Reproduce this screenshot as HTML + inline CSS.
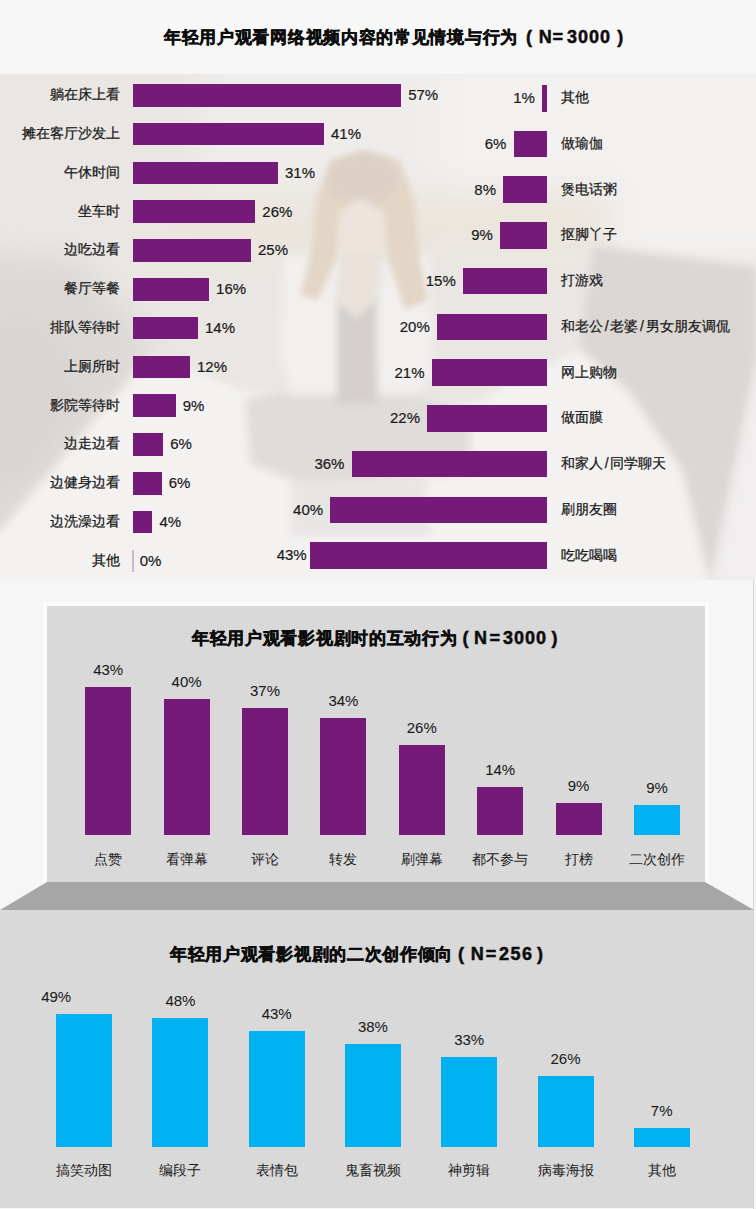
<!DOCTYPE html><html><head><meta charset="utf-8"><style>
html,body{margin:0;padding:0;}
body{width:756px;height:1209px;position:relative;overflow:hidden;background:#f6f6f6;font-family:"Liberation Sans",sans-serif;color:#1a1a1a;}
.a{position:absolute;}
.t{position:absolute;white-space:nowrap;font-weight:bold;color:#0d0d0d;font-size:17px;line-height:20px;letter-spacing:0.7px;-webkit-text-stroke:0.5px #0d0d0d}
.lb{position:absolute;white-space:nowrap;font-size:14px;line-height:20px;-webkit-text-stroke:0.25px #1a1a1a;letter-spacing:0px}
.num{position:absolute;white-space:nowrap;font-size:15px;line-height:20px;-webkit-text-stroke:0.2px #1a1a1a}
</style></head><body>

<div class="a" style="left:0;top:0;width:756px;height:73px;background:#f7f7f7"></div>
<div class="a" id="photo" style="left:0;top:74px;width:756px;height:506px;background:#ebe8e6;overflow:hidden">
<svg width="756" height="506" style="position:absolute;left:0;top:0">
<defs>
<filter id="b20" x="-50%" y="-50%" width="200%" height="200%"><feGaussianBlur stdDeviation="16"/></filter>
<filter id="b8" x="-30%" y="-30%" width="160%" height="160%"><feGaussianBlur stdDeviation="8"/></filter>
<filter id="b4" x="-30%" y="-30%" width="160%" height="160%"><feGaussianBlur stdDeviation="4"/></filter>
<filter id="b3" x="-30%" y="-30%" width="160%" height="160%"><feGaussianBlur stdDeviation="3"/></filter>
</defs>
<rect width="756" height="506" fill="#e9e6e3"/>
<g filter="url(#b20)">
<rect x="200" y="-40" width="600" height="160" fill="#efedeb"/>
<rect x="440" y="-40" width="360" height="230" fill="#f2f1f0"/>
<rect x="150" y="115" width="460" height="70" fill="#ebe5de"/>
<polygon points="-40,176 80,186 150,266 150,292 0,473 -40,480" fill="#dbd8d5"/>
</g>
<g filter="url(#b8)">
<polygon points="-10,250 50,250 80,320 30,400 -10,410" fill="#d8d5d2"/>
</g>
<g filter="url(#b4)">
<polygon points="593,172 756,193 756,289 711,506 700,470 682,396 629,318 579,275" fill="#dbd7d4"/>
<polygon points="150,282 245,316 470,330 579,275 629,318 682,396 700,470 711,520 -20,520 -20,480" fill="#f3f2f1"/>
<polygon points="756,289 780,289 780,520 711,506" fill="#f0eeee"/>
</g>
<g filter="url(#b4)">
<polygon points="245,325 300,312 420,322 470,336 470,400 300,409 250,390" fill="#e0dcda"/>
<polygon points="284,180 337,185 337,321 290,321 280,280" fill="#f2f0ef"/>
<polygon points="384,185 429,180 434,300 415,321 371,321" fill="#f2f0ef"/>
<polygon points="337,228 376,228 378,330 337,330" fill="#d4cfcc"/>
<polygon points="292,407 426,405 430,462 290,462" fill="#e8e6e5"/>
</g>
<g filter="url(#b3)">
<polygon points="330,86 366,75 400,86 414,126 420,186 428,226 405,236 388,186 384,136 340,136 336,186 318,226 300,221 312,176 316,126" fill="#e3d6c6"/>
<ellipse cx="362" cy="105" rx="36" ry="26" fill="#ddd1c6"/>
<ellipse cx="361" cy="157" rx="23" ry="31" fill="#ece4dd"/>
<polygon points="343,180 379,180 374,228 356,245 338,228" fill="#e9e1da"/>
</g>
</svg>

</div>
<div class="t" style="left:164.0px;top:27.5px">年轻用户观看网络视频内容的常见情境与行为</div>
<div class="t" style="left:526.0px;top:26.5px;letter-spacing:0.0px;font-size:18px">(</div>
<div class="t" style="left:538.7px;top:26.5px;letter-spacing:0.0px;font-size:18px">N</div>
<div class="t" style="left:552.5px;top:26.5px;letter-spacing:0.0px;font-size:18px">=</div>
<div class="t" style="left:567.0px;top:26.5px;letter-spacing:1.0px;font-size:18px">3000</div>
<div class="t" style="left:617.2px;top:26.5px;letter-spacing:0.0px;font-size:18px">)</div>
<div class="a" style="left:133px;top:84.0px;width:268.0px;height:22.5px;background:#761a79"></div>
<div class="lb" style="right:636.0px;top:84.2px">躺在床上看</div>
<div class="num" style="left:408.2px;top:85.2px">57%</div>
<div class="a" style="left:133px;top:122.8px;width:190.8px;height:22.5px;background:#761a79"></div>
<div class="lb" style="right:636.0px;top:123.1px">摊在客厅沙发上</div>
<div class="num" style="left:331.0px;top:124.1px">41%</div>
<div class="a" style="left:133px;top:161.6px;width:144.8px;height:22.5px;background:#761a79"></div>
<div class="lb" style="right:636.0px;top:161.8px">午休时间</div>
<div class="num" style="left:285.0px;top:162.8px">31%</div>
<div class="a" style="left:133px;top:200.4px;width:122.1px;height:22.5px;background:#761a79"></div>
<div class="lb" style="right:636.0px;top:200.6px">坐车时</div>
<div class="num" style="left:262.3px;top:201.6px">26%</div>
<div class="a" style="left:133px;top:239.2px;width:117.8px;height:22.5px;background:#761a79"></div>
<div class="lb" style="right:636.0px;top:239.4px">边吃边看</div>
<div class="num" style="left:258.0px;top:240.4px">25%</div>
<div class="a" style="left:133px;top:278.0px;width:75.9px;height:22.5px;background:#761a79"></div>
<div class="lb" style="right:636.0px;top:278.2px">餐厅等餐</div>
<div class="num" style="left:216.1px;top:279.2px">16%</div>
<div class="a" style="left:133px;top:316.8px;width:64.8px;height:22.5px;background:#761a79"></div>
<div class="lb" style="right:636.0px;top:317.0px">排队等待时</div>
<div class="num" style="left:205.0px;top:318.0px">14%</div>
<div class="a" style="left:133px;top:355.6px;width:56.8px;height:22.5px;background:#761a79"></div>
<div class="lb" style="right:636.0px;top:355.8px">上厕所时</div>
<div class="num" style="left:197.0px;top:356.8px">12%</div>
<div class="a" style="left:133px;top:394.4px;width:42.5px;height:22.5px;background:#761a79"></div>
<div class="lb" style="right:636.0px;top:394.6px">影院等待时</div>
<div class="num" style="left:182.7px;top:395.6px">9%</div>
<div class="a" style="left:133px;top:433.2px;width:30.0px;height:22.5px;background:#761a79"></div>
<div class="lb" style="right:636.0px;top:433.4px">边走边看</div>
<div class="num" style="left:170.2px;top:434.4px">6%</div>
<div class="a" style="left:133px;top:472.0px;width:28.5px;height:22.5px;background:#761a79"></div>
<div class="lb" style="right:636.0px;top:472.2px">边健身边看</div>
<div class="num" style="left:168.7px;top:473.2px">6%</div>
<div class="a" style="left:133px;top:510.8px;width:19.2px;height:22.5px;background:#761a79"></div>
<div class="lb" style="right:636.0px;top:511.0px">边洗澡边看</div>
<div class="num" style="left:159.4px;top:512.0px">4%</div>
<div class="a" style="left:132.2px;top:549.6px;width:1.6px;height:22.5px;background:#c4bccb"></div>
<div class="lb" style="right:636.0px;top:549.8px">其他</div>
<div class="num" style="left:139.7px;top:550.8px">0%</div>
<div class="a" style="left:542.0px;top:85.0px;width:4.6px;height:26.5px;background:#761a79"></div>
<div class="lb" style="left:561.0px;top:87.2px">其他</div>
<div class="num" style="right:221.2px;top:88.2px">1%</div>
<div class="a" style="left:513.5px;top:130.7px;width:33.1px;height:26.5px;background:#761a79"></div>
<div class="lb" style="left:561.0px;top:133.0px">做瑜伽</div>
<div class="num" style="right:249.7px;top:134.0px">6%</div>
<div class="a" style="left:503.2px;top:176.4px;width:43.4px;height:26.5px;background:#761a79"></div>
<div class="lb" style="left:561.0px;top:178.7px">煲电话粥</div>
<div class="num" style="right:260.0px;top:179.7px">8%</div>
<div class="a" style="left:500.0px;top:222.2px;width:46.6px;height:26.5px;background:#761a79"></div>
<div class="lb" style="left:561.0px;top:224.4px">抠脚丫子</div>
<div class="num" style="right:263.2px;top:225.4px">9%</div>
<div class="a" style="left:463.0px;top:267.9px;width:83.6px;height:26.5px;background:#761a79"></div>
<div class="lb" style="left:561.0px;top:270.1px">打游戏</div>
<div class="num" style="right:300.2px;top:271.1px">15%</div>
<div class="a" style="left:437.0px;top:313.6px;width:109.6px;height:26.5px;background:#761a79"></div>
<div class="lb" style="left:561.0px;top:315.9px">和老公<span style="margin:0 1.7px">/</span>老婆<span style="margin:0 1.7px">/</span>男女朋友调侃</div>
<div class="num" style="right:326.2px;top:316.9px">20%</div>
<div class="a" style="left:431.7px;top:359.3px;width:114.9px;height:26.5px;background:#761a79"></div>
<div class="lb" style="left:561.0px;top:361.6px">网上购物</div>
<div class="num" style="right:331.5px;top:362.6px">21%</div>
<div class="a" style="left:427.2px;top:405.0px;width:119.4px;height:26.5px;background:#761a79"></div>
<div class="lb" style="left:561.0px;top:407.3px">做面膜</div>
<div class="num" style="right:336.0px;top:408.3px">22%</div>
<div class="a" style="left:351.6px;top:450.8px;width:195.0px;height:26.5px;background:#761a79"></div>
<div class="lb" style="left:561.0px;top:453.0px">和家人<span style="margin:0 1.7px">/</span>同学聊天</div>
<div class="num" style="right:411.6px;top:454.0px">36%</div>
<div class="a" style="left:330.3px;top:496.5px;width:216.3px;height:26.5px;background:#761a79"></div>
<div class="lb" style="left:561.0px;top:498.7px">刷朋友圈</div>
<div class="num" style="right:432.9px;top:499.7px">40%</div>
<div class="a" style="left:310.3px;top:542.2px;width:236.3px;height:26.5px;background:#761a79"></div>
<div class="lb" style="left:561.0px;top:544.5px">吃吃喝喝</div>
<div class="num" style="right:449.3px;top:544.5px">43%</div>
<div class="a" style="left:47px;top:606px;width:658px;height:276px;background:#d9d9d9;box-shadow:0 0 0 4px #fbfbfb"></div>
<svg class="a" style="left:0;top:0" width="756" height="1209"><polygon points="47,882 705,882 754,910 0,910" fill="#a6a6a6"/></svg>
<div class="a" style="left:0;top:910px;width:753.5px;height:298px;background:#d9d9d9"></div>
<div class="a" style="left:753px;top:580px;width:1px;height:629px;background:#d5d5d5"></div>
<div class="t" style="left:192.0px;top:629.0px">年轻用户观看影视剧时的互动行为</div>
<div class="t" style="left:462.5px;top:628.0px;letter-spacing:0.0px;font-size:18px">(</div>
<div class="t" style="left:474.1px;top:628.0px;letter-spacing:0.0px;font-size:18px">N</div>
<div class="t" style="left:489.5px;top:628.0px;letter-spacing:0.0px;font-size:18px">=</div>
<div class="t" style="left:503.0px;top:628.0px;letter-spacing:1.0px;font-size:18px">3000</div>
<div class="t" style="left:551.6px;top:628.0px;letter-spacing:0.0px;font-size:18px">)</div>
<div class="a" style="left:85.2px;top:687.4px;width:46px;height:147.6px;background:#761a79"></div>
<div class="num" style="left:85.2px;width:46px;text-align:center;top:660.4px;-webkit-text-stroke-width:0.05px">43%</div>
<div class="lb" style="left:85.2px;width:46px;text-align:center;top:848.5px;display:flex;justify-content:center;-webkit-text-stroke-width:0px">点赞</div>
<div class="a" style="left:163.6px;top:699.0px;width:46px;height:136.0px;background:#761a79"></div>
<div class="num" style="left:163.6px;width:46px;text-align:center;top:672.0px;-webkit-text-stroke-width:0.05px">40%</div>
<div class="lb" style="left:163.6px;width:46px;text-align:center;top:848.5px;display:flex;justify-content:center;-webkit-text-stroke-width:0px">看弹幕</div>
<div class="a" style="left:242.0px;top:707.7px;width:46px;height:127.3px;background:#761a79"></div>
<div class="num" style="left:242.0px;width:46px;text-align:center;top:680.7px;-webkit-text-stroke-width:0.05px">37%</div>
<div class="lb" style="left:242.0px;width:46px;text-align:center;top:848.5px;display:flex;justify-content:center;-webkit-text-stroke-width:0px">评论</div>
<div class="a" style="left:320.4px;top:718.1px;width:46px;height:116.9px;background:#761a79"></div>
<div class="num" style="left:320.4px;width:46px;text-align:center;top:691.1px;-webkit-text-stroke-width:0.05px">34%</div>
<div class="lb" style="left:320.4px;width:46px;text-align:center;top:848.5px;display:flex;justify-content:center;-webkit-text-stroke-width:0px">转发</div>
<div class="a" style="left:398.8px;top:744.9px;width:46px;height:90.1px;background:#761a79"></div>
<div class="num" style="left:398.8px;width:46px;text-align:center;top:717.9px;-webkit-text-stroke-width:0.05px">26%</div>
<div class="lb" style="left:398.8px;width:46px;text-align:center;top:848.5px;display:flex;justify-content:center;-webkit-text-stroke-width:0px">刷弹幕</div>
<div class="a" style="left:477.2px;top:786.5px;width:46px;height:48.5px;background:#761a79"></div>
<div class="num" style="left:477.2px;width:46px;text-align:center;top:759.5px;-webkit-text-stroke-width:0.05px">14%</div>
<div class="lb" style="left:477.2px;width:46px;text-align:center;top:848.5px;display:flex;justify-content:center;-webkit-text-stroke-width:0px">都不参与</div>
<div class="a" style="left:555.6px;top:803.1px;width:46px;height:31.9px;background:#761a79"></div>
<div class="num" style="left:555.6px;width:46px;text-align:center;top:776.1px;-webkit-text-stroke-width:0.05px">9%</div>
<div class="lb" style="left:555.6px;width:46px;text-align:center;top:848.5px;display:flex;justify-content:center;-webkit-text-stroke-width:0px">打榜</div>
<div class="a" style="left:634.0px;top:804.8px;width:46px;height:30.2px;background:#00b0f0"></div>
<div class="num" style="left:634.0px;width:46px;text-align:center;top:777.8px;-webkit-text-stroke-width:0.05px">9%</div>
<div class="lb" style="left:634.0px;width:46px;text-align:center;top:848.5px;display:flex;justify-content:center;-webkit-text-stroke-width:0px">二次创作</div>
<div class="t" style="left:170.0px;top:944.7px">年轻用户观看影视剧的二次创作倾向</div>
<div class="t" style="left:458.0px;top:943.7px;letter-spacing:0.0px;font-size:18px">(</div>
<div class="t" style="left:470.7px;top:943.7px;letter-spacing:0.0px;font-size:18px">N</div>
<div class="t" style="left:485.8px;top:943.7px;letter-spacing:0.0px;font-size:18px">=</div>
<div class="t" style="left:499.0px;top:943.7px;letter-spacing:1.5px;font-size:18px">256</div>
<div class="t" style="left:537.1px;top:943.7px;letter-spacing:0.0px;font-size:18px">)</div>
<div class="a" style="left:56.2px;top:1013.9px;width:56px;height:132.9px;background:#00b0f0"></div>
<div class="num" style="left:28.2px;width:56px;text-align:center;top:987.1px;display:flex;justify-content:center;-webkit-text-stroke-width:0.05px">49%</div>
<div class="lb" style="left:56.2px;width:56px;top:1160.0px;display:flex;justify-content:center;-webkit-text-stroke-width:0px">搞笑动图</div>
<div class="a" style="left:152.4px;top:1017.8px;width:56px;height:129.0px;background:#00b0f0"></div>
<div class="num" style="left:152.4px;width:56px;text-align:center;top:991.0px;display:flex;justify-content:center;-webkit-text-stroke-width:0.05px">48%</div>
<div class="lb" style="left:152.4px;width:56px;top:1160.0px;display:flex;justify-content:center;-webkit-text-stroke-width:0px">编段子</div>
<div class="a" style="left:248.7px;top:1030.6px;width:56px;height:116.2px;background:#00b0f0"></div>
<div class="num" style="left:248.7px;width:56px;text-align:center;top:1003.8px;display:flex;justify-content:center;-webkit-text-stroke-width:0.05px">43%</div>
<div class="lb" style="left:248.7px;width:56px;top:1160.0px;display:flex;justify-content:center;-webkit-text-stroke-width:0px">表情包</div>
<div class="a" style="left:344.9px;top:1044.1px;width:56px;height:102.7px;background:#00b0f0"></div>
<div class="num" style="left:344.9px;width:56px;text-align:center;top:1017.3px;display:flex;justify-content:center;-webkit-text-stroke-width:0.05px">38%</div>
<div class="lb" style="left:344.9px;width:56px;top:1160.0px;display:flex;justify-content:center;-webkit-text-stroke-width:0px">鬼畜视频</div>
<div class="a" style="left:441.2px;top:1057.1px;width:56px;height:89.7px;background:#00b0f0"></div>
<div class="num" style="left:441.2px;width:56px;text-align:center;top:1030.3px;display:flex;justify-content:center;-webkit-text-stroke-width:0.05px">33%</div>
<div class="lb" style="left:441.2px;width:56px;top:1160.0px;display:flex;justify-content:center;-webkit-text-stroke-width:0px">神剪辑</div>
<div class="a" style="left:537.5px;top:1075.7px;width:56px;height:71.1px;background:#00b0f0"></div>
<div class="num" style="left:537.5px;width:56px;text-align:center;top:1048.9px;display:flex;justify-content:center;-webkit-text-stroke-width:0.05px">26%</div>
<div class="lb" style="left:537.5px;width:56px;top:1160.0px;display:flex;justify-content:center;-webkit-text-stroke-width:0px">病毒海报</div>
<div class="a" style="left:633.7px;top:1127.5px;width:56px;height:19.3px;background:#00b0f0"></div>
<div class="num" style="left:633.7px;width:56px;text-align:center;top:1100.7px;display:flex;justify-content:center;-webkit-text-stroke-width:0.05px">7%</div>
<div class="lb" style="left:633.7px;width:56px;top:1160.0px;display:flex;justify-content:center;-webkit-text-stroke-width:0px">其他</div>
</body></html>
